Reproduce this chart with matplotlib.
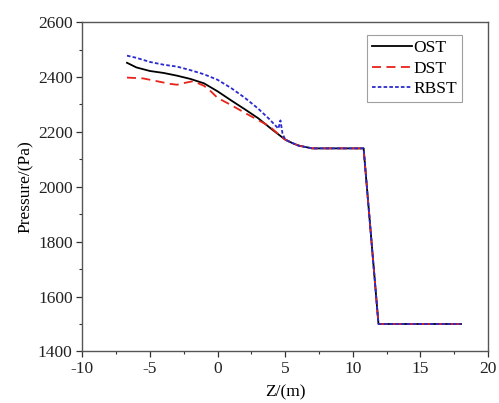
import matplotlib
matplotlib.use("Agg")
import matplotlib.pyplot as plt
from matplotlib.ticker import MultipleLocator

plt.rcParams["font.family"] = ["Liberation Serif", "DejaVu Serif"]
plt.rcParams["font.size"] = 12.5
plt.rcParams["axes.unicode_minus"] = False

# pressure along the axis for the three configurations
z_ost = [-6.7, -6.0, -5.0, -4.0, -3.0, -2.0, -1.0, 0.0, 1.0, 2.0, 3.0, 4.0,
         5.0, 5.5, 6.0, 7.0, 9.0, 10.8, 11.9, 18.0]
p_ost = [2452, 2435, 2422, 2415, 2405, 2393, 2377, 2348, 2315, 2283, 2250, 2210,
         2172, 2160, 2150, 2140, 2140, 2140, 1500, 1500]

z_dst = [-6.7, -5.5, -4.5, -3.5, -3.0, -2.5, -1.8, -1.0, -0.5, 0.0, 1.0, 2.0,
         3.0, 3.8, 4.5, 5.0, 5.5, 6.0, 7.0, 9.0, 10.8, 11.9, 18.0]
p_dst = [2398, 2395, 2385, 2375, 2372, 2378, 2385, 2368, 2348, 2324, 2298, 2270,
         2243, 2222, 2192, 2172, 2160, 2150, 2140, 2140, 2140, 1500, 1500]

z_rbst = [-6.7, -6.0, -5.0, -4.0, -3.0, -2.0, -1.0, 0.0, 1.0, 2.0, 3.0, 3.8,
          4.5, 4.65, 4.8, 5.0, 5.5, 6.0, 7.0, 9.0, 10.8, 11.9, 18.0]
p_rbst = [2478, 2470, 2455, 2445, 2438, 2425, 2410, 2390, 2360, 2325, 2285, 2248,
          2212, 2242, 2195, 2172, 2160, 2150, 2140, 2140, 2140, 1500, 1500]


def plot_pressure():
    fig = plt.figure(figsize=(4.99, 4.03), dpi=100)
    ax = fig.add_axes([0.165, 0.128, 0.813, 0.817])

    ax.plot(z_ost, p_ost, color="black", lw=1.3, ls="-", label="OST")
    ax.plot(z_dst, p_dst, color="#e8231a", lw=1.3, ls=(0, (5, 3)), label="DST")
    ax.plot(z_rbst, p_rbst, color="#2a2ad0", lw=1.3, ls=(0, (2, 1.2)), label="RBST")

    ax.set_xlim(-10, 20)
    ax.set_ylim(1400, 2600)
    ax.xaxis.set_major_locator(MultipleLocator(5))
    ax.xaxis.set_minor_locator(MultipleLocator(2.5))
    ax.yaxis.set_major_locator(MultipleLocator(200))
    ax.yaxis.set_minor_locator(MultipleLocator(100))
    ax.tick_params(which="major", direction="out", length=4, width=0.9,
                   colors="#333333", pad=3)
    ax.tick_params(which="minor", direction="out", length=2, width=0.8, colors="#333333")
    ax.tick_params(labelcolor="#222222", labelsize=12.5)
    for s in ax.spines.values():
        s.set_color("#555555")
        s.set_linewidth(1.0)

    ax.set_xlabel("Z/(m)", fontsize=12.5, labelpad=5)
    ax.set_ylabel("Pressure/(Pa)", fontsize=12.5, labelpad=3)

    leg = ax.legend(loc="upper right", bbox_to_anchor=(0.945, 0.972), frameon=True,
                    fancybox=False, edgecolor="#888888", handlelength=2.3,
                    handletextpad=0.1, borderpad=0.3, labelspacing=0.25,
                    borderaxespad=0.2, fontsize=12.5)
    leg.get_frame().set_linewidth(0.8)

    fig.savefig("out.png", dpi=100)


if __name__ == "__main__":
    plot_pressure()
